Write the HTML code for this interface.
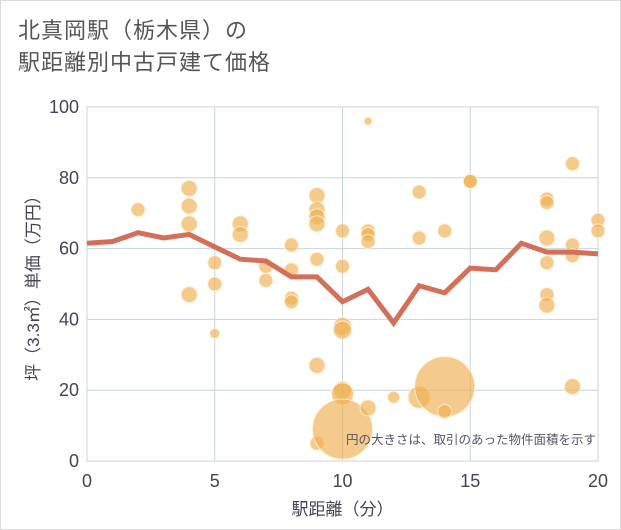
<!DOCTYPE html>
<html><head><meta charset="utf-8"><style>
body{margin:0;background:#fff;}
#wrap{position:relative;width:621px;height:530px;box-sizing:border-box;border:1px solid #ddd;overflow:hidden;font-family:"Liberation Sans","Noto Sans CJK JP",sans-serif;}
#title{position:absolute;left:17px;top:14px;font-size:22px;line-height:32px;color:#555;letter-spacing:1px;}
</style></head><body>
<div id="wrap">
<div id="title">北真岡駅（栃木県）の<br>駅距離別中古戸建て価格</div>
<svg id="chart" width="621" height="530" style="position:absolute;left:0;top:0"></svg>
</div>
<script>
const lineX=[0,1,2,3,4,5,6,7,8,9,10,11,12,13,14,15,16,17,18,19,20];
const lineY=[61.5,62,64.5,63,64,60.5,57,56.5,52,52,45,48.5,39,49.5,47.5,54.5,54,61.5,59,59,58.5];
const bubX=[2,4,4,4,4,5,5,5,6,6,7,7,8,8,8,8,9,9,9,9,9,9,9,10,10,10,10,10,10,10,11,11,11,11,11,12,13,13,13,14,14,14,15,15,18,18,18,18,18,18,19,19,19,19,20,20];
const bubY=[71,77,72,67,47,56,50,36,67,64,55,51,61,54,46,45,75,71,69,67,57,27,5,65,55,38,37,20,19,9,96,65,64,62,15,18,76,63,18,65,21,14,79,79,74,73,63,56,47,44,84,61,58,21,68,65];
const bubR=[7,8,8,8,8,7,7,5,8,8,7,7,7,7,7,7,8,8,8,8,7,8,7,7,7,9,9,9,11,30,4,7,7,7,8,6,7,7,11,7,30,7,7,7,7,7,8,7,7,8,7,7,7,8,7,7];
const xTicks=[0,5,10,15,20];
const yTicks=[0,20,40,60,80,100];
const X0=86,X1=597,Y0=460,Y1=106;
const sx=v=>X0+(X1-X0)*v/20, sy=v=>Y0-(Y0-Y1)*v/100;
const svg=document.getElementById('chart');const NS='http://www.w3.org/2000/svg';
function mk(t,a){const e=document.createElementNS(NS,t);for(const k in a)e.setAttribute(k,a[k]);svg.appendChild(e);return e;}
let r=mk('rect',{x:X0,y:Y1,width:X1-X0,height:Y0-Y1,fill:'#fff',stroke:'#999','stroke-width':1});


xTicks.forEach(v=>{let l=mk('line',{x1:sx(v),x2:sx(v),y1:Y1,y2:Y0,stroke:'#c8d4e0'});


let t=mk('text',{x:sx(v),y:Y0+26,'text-anchor':'middle','font-size':18,fill:'#445'});t.textContent=v;

});
yTicks.forEach(v=>{let l=mk('line',{x1:X0,x2:X1,y1:sy(v),y2:sy(v),stroke:'#c8d4e0'});


let t=mk('text',{x:X0-8,y:sy(v)+6,'text-anchor':'end','font-size':18,fill:'#445'});t.textContent=v;

});
bubX.forEach((v,i)=>{let c=mk('circle',{cx:sx(v),cy:sy(bubY[i]),r:bubR[i],fill:'rgba(238,175,80,0.65)',stroke:'rgba(255,240,210,0.9)','stroke-width':1});

});
let p=mk('polyline',{points:lineX.map((v,i)=>sx(v)+','+sy(lineY[i])).join(' '),fill:'none',stroke:'#d4705a','stroke-width':5,'stroke-linejoin':'miter'});


let n=mk('text',{x:X1-2,y:443,'text-anchor':'end','font-size':12.5,fill:'#556'});n.textContent='円の大きさは、取引のあった物件面積を示す';


let xt=mk('text',{x:(X0+X1)/2,y:514,'text-anchor':'middle','font-size':17,fill:'#445'});xt.textContent='駅距離（分）';


let yt=mk('text',{x:0,y:0,'text-anchor':'middle','font-size':17,fill:'#445',transform:'translate(38,'+((Y0+Y1)/2)+') rotate(-90)'});yt.textContent='坪（3.3㎡）単価（万円）';


</script>
</body></html>
